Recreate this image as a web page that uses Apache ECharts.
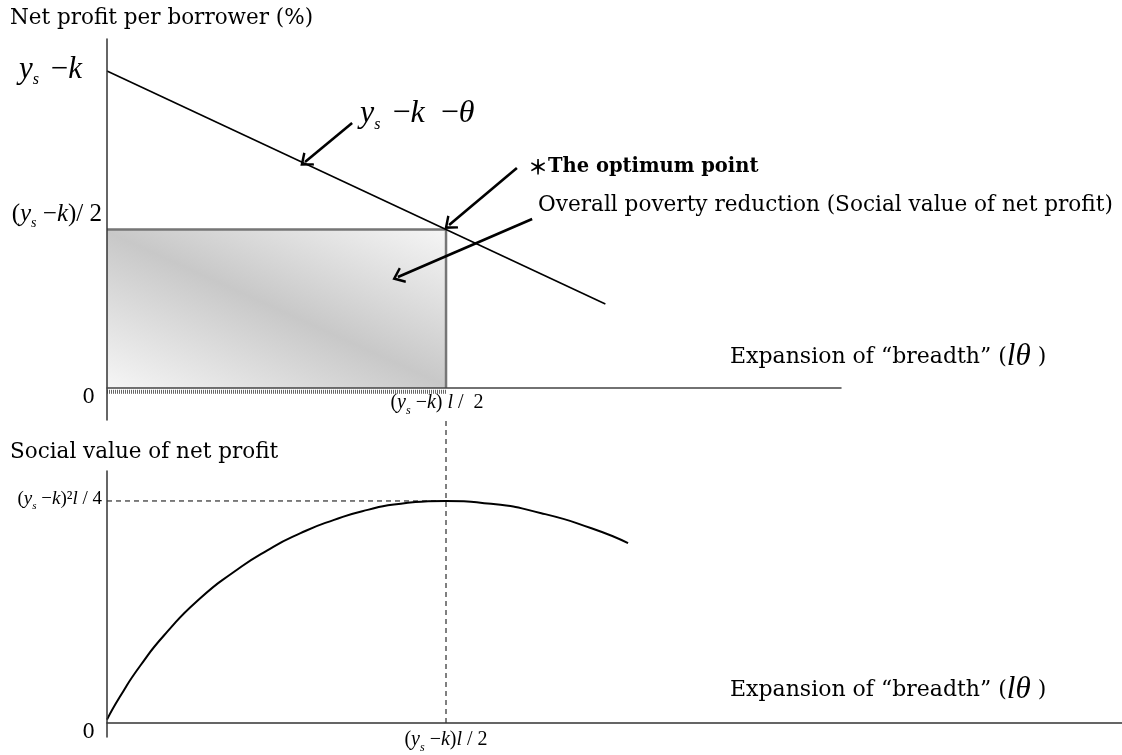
<!DOCTYPE html>
<html>
<head>
<meta charset="utf-8">
<script src="https://cdn.jsdelivr.net/npm/echarts@6/dist/echarts.min.js"></script>
<style>
  html, body { margin: 0; padding: 0; background: #fff; }
  #main { width: 1122px; height: 755px; }
</style>
</head>
<body>
<div id="main"></div>
<script>
// x in units of the optimum breadth (ys-k)l/2 ; top y in units of (ys-k) ; bottom y in units of the max social value
var profitLineX = [0, 1.47];
var profitLineY = [1, 0.265];
var rectX = [0, 1, 1];
var rectY = [0.5, 0.5, 0];
var bandX = [0, 1];
var bandY = [-0.012, -0.012];
var socialX = [0, 0.038, 0.098, 0.176, 0.275, 0.374, 0.473, 0.571, 0.670, 0.769, 0.867, 1, 1.133, 1.281, 1.429, 1.537];
var socialY = [0.015, 0.118, 0.258, 0.408, 0.562, 0.680, 0.778, 0.855, 0.915, 0.960, 0.988, 1, 0.987, 0.945, 0.877, 0.810];
var guideVX = [1, 1];
var guideVY = [0, 1.374];
var guideHX = [0, 1];
var guideHY = [1, 1];
// arrows (from -> to), top panel coordinates
var arrowFrom = [[0.723, 0.836], [1.209, 0.694], [1.254, 0.533]];
var arrowTo = [[0.584, 0.713], [1.009, 0.514], [0.858, 0.350]];

// tick labels
var topYTicks = [0, 0.5, 1];
var topYText = ['{g0| }\n{zero|0}', '{b|(}{bi|y}{bs|s}{b| −}{bi|k}{b|)/ 2}\n{gh| }', '{ai|y}{as|s }{a| −}{ak|k}'];
var topXTicks = [1];
var topXText = ['{d|(}{di|y}{ds|s}{d| −}{di|k}{d|)}{di| l}{dl| /  2}'];
var botYTicks = [0, 1];
var botYText = ['{g0| }\n{zero|0}', '{c|(}{ci|y}{cs|s}{c| −}{ci|k}{c|)²}{ci|l}{c| / 4}'];
var botXTicks = [1];
var botXText = ['{d|(}{di|y}{ds|s}{d| −}{di|k}{d|)}{di|l}{d| / 2}'];

var TXT = 'DejaVu Serif';
var MATH = 'Liberation Serif';

function pairs(xs, ys) {
  return xs.map(function (x, i) { return [x, ys[i]]; });
}
function pick(ticks, texts) {
  return function (v) {
    for (var i = 0; i < ticks.length; i++) {
      if (Math.abs(ticks[i] - v) < 1e-6) return texts[i];
    }
    return '';
  };
}

var mathRich = {
  // y_s - k (big)
  a:  { fontFamily: MATH, fontSize: 31, color: '#000', verticalAlign: 'top' },
  ai: { fontFamily: MATH, fontStyle: 'italic', fontSize: 31, color: '#000', verticalAlign: 'top' },
  ak: { fontFamily: MATH, fontStyle: 'italic', fontSize: 31, color: '#000', verticalAlign: 'top', padding: [0, 20, 0, 0] },
  as: { fontFamily: MATH, fontStyle: 'italic', fontSize: 16, color: '#000', verticalAlign: 'bottom', lineHeight: 34 },
  // (y_s - k)/2
  b:  { fontFamily: MATH, fontSize: 25, color: '#000', verticalAlign: 'top' },
  bi: { fontFamily: MATH, fontStyle: 'italic', fontSize: 25, color: '#000', verticalAlign: 'top' },
  bs: { fontFamily: MATH, fontStyle: 'italic', fontSize: 14, color: '#000', verticalAlign: 'bottom', lineHeight: 29 },
  gh: { fontSize: 1, lineHeight: 27 },
  // (y_s - k)^2 l / 4
  c:  { fontFamily: MATH, fontSize: 19, color: '#000', verticalAlign: 'top' },
  ci: { fontFamily: MATH, fontStyle: 'italic', fontSize: 19, color: '#000', verticalAlign: 'top' },
  cs: { fontFamily: MATH, fontStyle: 'italic', fontSize: 11, color: '#000', verticalAlign: 'bottom', lineHeight: 22 },
  // x ticks
  d:  { fontFamily: MATH, fontSize: 20, color: '#000', verticalAlign: 'top' },
  dl: { fontFamily: MATH, fontSize: 20, color: '#000', verticalAlign: 'top', padding: [0, 18, 0, 0] },
  di: { fontFamily: MATH, fontStyle: 'italic', fontSize: 20, color: '#000', verticalAlign: 'top' },
  ds: { fontFamily: MATH, fontStyle: 'italic', fontSize: 12, color: '#000', verticalAlign: 'bottom', lineHeight: 24 },
  // zero
  zero: { fontFamily: TXT, fontSize: 20, color: '#000', padding: [0, 7, 0, 0] },
  g0: { fontSize: 1, lineHeight: 20 }
};

var axisLineStyle = { color: '#333', width: 1.5 };

function mathTitle() {
  return {
    t: { fontFamily: TXT, fontSize: 22, fill: '#000' },
    m: { fontFamily: MATH, fontStyle: 'italic', fontSize: 31, fill: '#000' }
  };
}

var chart = echarts.init(document.getElementById('main'));

var option = {
  animation: false,
  backgroundColor: '#fff',
  grid: [
    { left: 107, top: 39, width: 734, height: 381, outerBoundsMode: 'none' },
    { left: 107, top: 471, width: 1015, height: 266, outerBoundsMode: 'none' }
  ],
  xAxis: [
    {
      gridIndex: 0, type: 'value', min: 0, max: 2.165, z: 5,
      axisLine: { onZero: true, lineStyle: { color: '#444', width: 1.5 } },
      axisTick: { show: false }, splitLine: { show: false },
      axisLabel: { customValues: topXTicks, formatter: pick(topXTicks, topXText), margin: -27, rich: mathRich }
    },
    {
      gridIndex: 1, type: 'value', min: 0, max: 2.994, z: 5,
      axisLine: { onZero: true, lineStyle: axisLineStyle },
      axisTick: { show: false }, splitLine: { show: false },
      axisLabel: { customValues: botXTicks, formatter: pick(botXTicks, botXText), margin: -7, rich: mathRich }
    }
  ],
  yAxis: [
    {
      gridIndex: 0, type: 'value', min: -0.101, max: 1.101, z: 5,
      axisLine: { show: true, onZero: false, lineStyle: axisLineStyle },
      axisTick: { show: false }, splitLine: { show: false },
      axisLabel: { customValues: topYTicks, formatter: pick(topYTicks, topYText), margin: 5, align: 'right', rich: mathRich }
    },
    {
      gridIndex: 1, type: 'value', min: -0.063, max: 1.135, z: 5,
      axisLine: { show: true, onZero: false, lineStyle: axisLineStyle },
      axisTick: { show: false }, splitLine: { show: false },
      axisLabel: { customValues: botYTicks, formatter: pick(botYTicks, botYText), margin: 5, align: 'right', rich: mathRich }
    }
  ],
  graphic: [
    { type: 'text', x: 10, y: 18, style: { text: 'Net profit per borrower (%)', fontFamily: TXT, fontSize: 21.5, fill: '#000', verticalAlign: 'middle' } },
    { type: 'text', x: 10, y: 452, style: { text: 'Social value of net profit', fontFamily: TXT, fontSize: 21.5, fill: '#000', verticalAlign: 'middle' } },
    { type: 'text', x: 360, y: 115, style: {
        text: '{m|y}{s|s }{o| −}{m|k }{o| −}{m|θ}', verticalAlign: 'middle',
        rich: {
          m: { fontFamily: MATH, fontStyle: 'italic', fontSize: 32, fill: '#000', verticalAlign: 'top' },
          o: { fontFamily: MATH, fontSize: 32, fill: '#000', verticalAlign: 'top' },
          s: { fontFamily: MATH, fontStyle: 'italic', fontSize: 16, fill: '#000', verticalAlign: 'bottom', lineHeight: 35 }
        }
      } },
    { type: 'text', x: 528, y: 167, style: {
        text: '{a|＊}{t|The optimum point}', verticalAlign: 'middle',
        rich: {
          a: { fontFamily: 'Noto Sans CJK JP', fontWeight: 'bold', fontSize: 20, fill: '#000' },
          t: { fontFamily: TXT, fontWeight: 'bold', fontSize: 19.5, fill: '#000' }
        }
      } },
    { type: 'text', x: 538, y: 205, style: { text: 'Overall poverty reduction (Social value of net profit)', fontFamily: TXT, fontSize: 21.6, fill: '#000', verticalAlign: 'middle' } },
    { type: 'text', x: 730, y: 357, style: { text: '{t|Expansion of “breadth” (}{m|lθ}{t| )}', verticalAlign: 'middle', rich: mathTitle() } },
    { type: 'text', x: 730, y: 690, style: { text: '{t|Expansion of “breadth” (}{m|lθ}{t| )}', verticalAlign: 'middle', rich: mathTitle() } }
  ],
  series: [
    {
      // shaded rectangle: overall poverty reduction
      name: 'reduction', type: 'line', xAxisIndex: 0, yAxisIndex: 0,
      data: pairs(rectX, rectY), symbol: 'none', silent: true, z: 1,
      lineStyle: { color: '#767676', width: 2.5 },
      areaStyle: {
        opacity: 1,
        color: new echarts.graphic.LinearGradient(0.325, 1.325, 0.675, -0.325, [
          { offset: 0, color: '#f6f6f6' },
          { offset: 0.5, color: '#c8c8c8' },
          { offset: 1, color: '#f6f6f6' }
        ])
      }
    },
    {
      name: 'band', type: 'line', xAxisIndex: 0, yAxisIndex: 0,
      data: pairs(bandX, bandY), symbol: 'none', silent: true, z: 2,
      lineStyle: { color: '#666', width: 4, type: [1, 1] }
    },
    {
      name: 'profit', type: 'line', xAxisIndex: 0, yAxisIndex: 0,
      data: pairs(profitLineX, profitLineY), symbol: 'none', silent: true, z: 3,
      lineStyle: { color: '#000', width: 1.6 },
      markLine: {
        silent: true,
        symbol: ['none', 'path://M10,0 L20,12 L17.6,13.5 L10,4.5 L2.4,13.5 L0,12 Z'],
        symbolSize: [17, 12],
        label: { show: false },
        lineStyle: { color: '#000', width: 2.6, type: 'solid' },
        data: arrowFrom.map(function (f, i) { return [{ coord: f }, { coord: arrowTo[i] }]; })
      }
    },
    {
      name: 'social', type: 'line', xAxisIndex: 1, yAxisIndex: 1,
      data: pairs(socialX, socialY), symbol: 'none', silent: true, smooth: 0.6, z: 3,
      lineStyle: { color: '#000', width: 2 }
    },
    {
      name: 'guideV', type: 'line', xAxisIndex: 1, yAxisIndex: 1, clip: false,
      data: pairs(guideVX, guideVY), symbol: 'none', silent: true, z: 2,
      lineStyle: { color: '#000', width: 1, type: [5, 4] }
    },
    {
      name: 'guideH', type: 'line', xAxisIndex: 1, yAxisIndex: 1,
      data: pairs(guideHX, guideHY), symbol: 'none', silent: true, z: 2,
      lineStyle: { color: '#000', width: 1, type: [5, 4] }
    }
  ]
};

chart.setOption(option);
</script>
</body>
</html>
